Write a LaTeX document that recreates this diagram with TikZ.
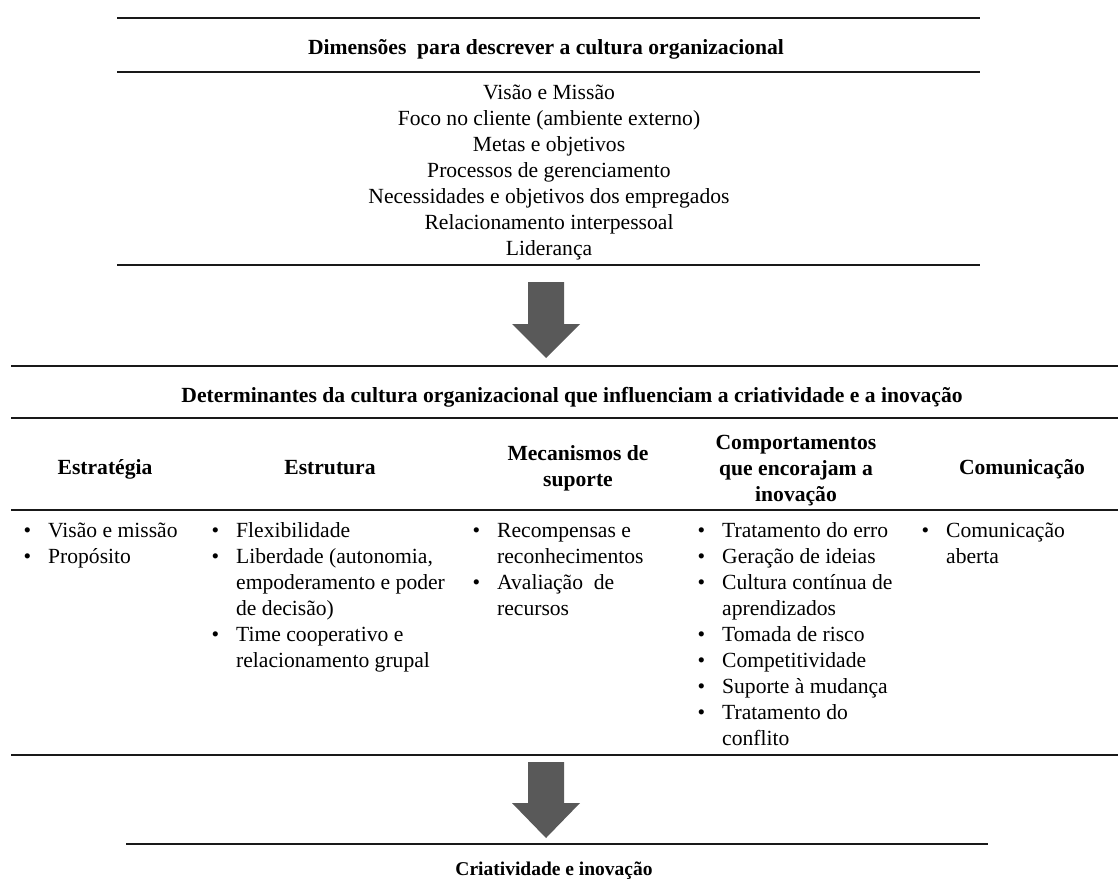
\documentclass[tikz,border=0pt]{standalone}
\usepackage{fontspec}
\setmainfont{Liberation Serif}
\definecolor{arrowgray}{RGB}{89,89,89}
\newcommand{\bullist}[1]{\begin{tabular}[t]{@{}l@{\hspace{17pt}}l@{}}#1\end{tabular}}
\newcommand{\ctrlist}[1]{\begin{tabular}[t]{@{}c@{}}#1\end{tabular}}

\begin{document}
\begin{tikzpicture}[x=1pt,y=-1pt,
  rule/.style={line width=2pt, black!90},
  txt/.style={inner sep=0pt, font=\fontsize{21.6}{26}\selectfont},
  bigarrow/.style={fill=arrowgray}]
\useasboundingbox (0,0) rectangle (1118,889);
% rules between the blocks
\foreach \y in {18,72,265} \draw[rule] (117,\y) -- (980,\y);
\foreach \y in {366,418,510,755} \draw[rule] (11,\y) -- (1118,\y);
\draw[rule] (126,844) -- (988,844);
% block arrows
\foreach \ya/\yb/\yc in {282/324/358, 762/803/838}
  \fill[bigarrow] (528,\ya) -- (564,\ya) -- (564,\yb) -- (580,\yb) -- (546,\yc)
    -- (512,\yb) -- (528,\yb) -- cycle;

% first block
\node[txt, anchor=base] (dimhead) at (546,54) {\textbf{Dimensões\ \ para descrever a cultura organizacional}};
\node[txt, anchor=base] (dimlist) at (549,99) {\ctrlist{Visão e Missão\\ Foco no cliente (ambiente externo)\\
  Metas e objetivos\\ Processos de gerenciamento\\ Necessidades e objetivos dos empregados\\
  Relacionamento interpessoal\\ Liderança}};

% second block
\node[txt, anchor=base] (dethead) at (572,402) {\textbf{Determinantes da cultura organizacional que influenciam a criatividade e a inovação}};
\node[txt, anchor=base] (estrat) at (105,474) {\textbf{Estratégia}};
\node[txt, anchor=base] (estrut) at (330,474) {\textbf{Estrutura}};
\node[txt, anchor=base] (mecan) at (578,460) {\ctrlist{\textbf{Mecanismos de}\\ \textbf{suporte}}};
\node[txt, anchor=base] (comport) at (796,449) {\ctrlist{\textbf{Comportamentos}\\ \textbf{que encorajam a}\\ \textbf{inovação}}};
\node[txt, anchor=base] (comunic) at (1022,474) {\textbf{Comunicação}};

\node[txt, anchor=base west] (estratlist) at (23.4,537) {\bullist{\textbullet & Visão e missão\\ \textbullet & Propósito}};
\node[txt, anchor=base west] (estrutlist) at (211.4,537) {\bullist{\textbullet & Flexibilidade\\
  \textbullet & Liberdade (autonomia,\\ & empoderamento e poder\\ & de decisão)\\
  \textbullet & Time cooperativo e\\ & relacionamento grupal}};
\node[txt, anchor=base west] (mecanlist) at (472.4,537) {\bullist{\textbullet & Recompensas e\\ & reconhecimentos\\
  \textbullet & Avaliação\ \ de\\ & recursos}};
\node[txt, anchor=base west] (comportlist) at (697.4,537) {\bullist{\textbullet & Tratamento do erro\\
  \textbullet & Geração de ideias\\ \textbullet & Cultura contínua de\\ & aprendizados\\
  \textbullet & Tomada de risco\\ \textbullet & Competitividade\\ \textbullet & Suporte à mudança\\
  \textbullet & Tratamento do\\ & conflito}};
\node[txt, anchor=base west] (comuniclist) at (921.4,537) {\bullist{\textbullet & Comunicação\\ & aberta}};

% result
\node[txt, anchor=base, font=\fontsize{19.5}{23}\selectfont] (result) at (554,875) {\textbf{Criatividade e inovação}};
\end{tikzpicture}
\end{document}
